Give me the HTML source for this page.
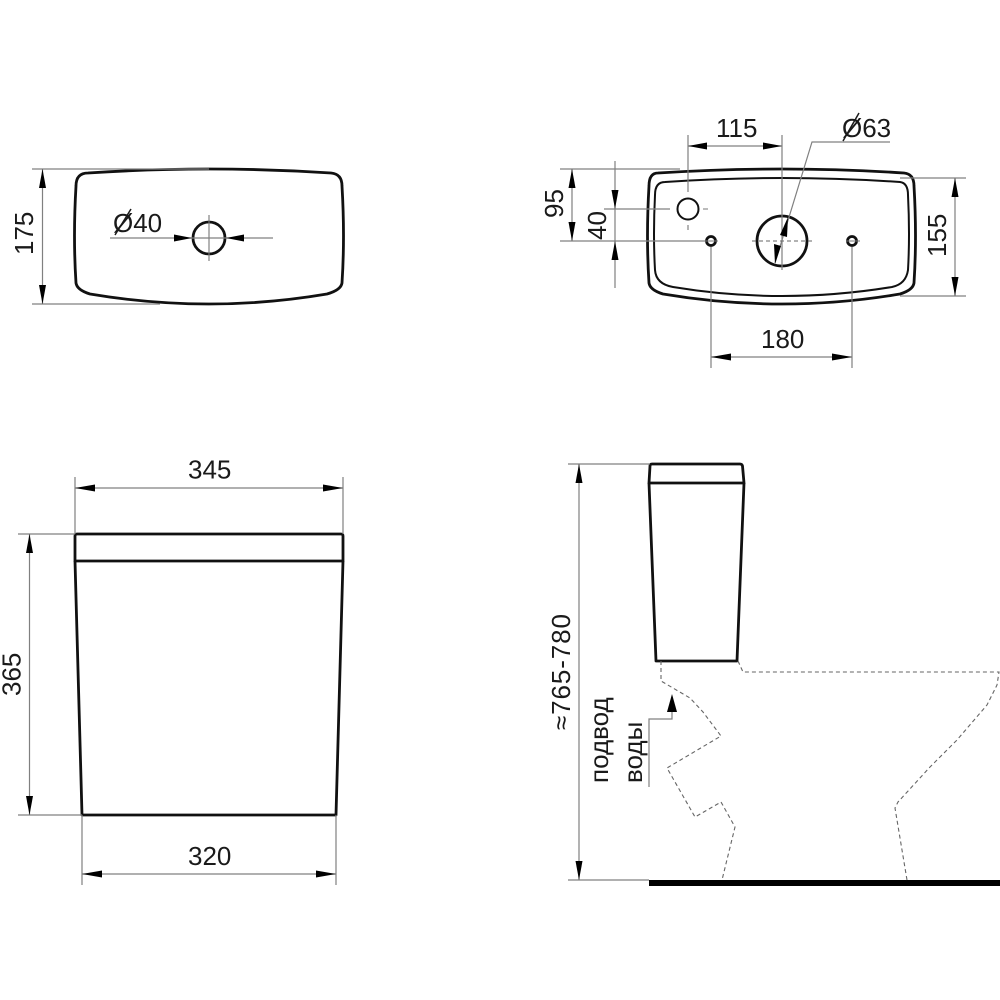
<!DOCTYPE html>
<html>
<head>
<meta charset="utf-8">
<style>
html,body{margin:0;padding:0;background:#fff;width:1000px;height:1000px;overflow:hidden}
svg{display:block}
text{font-family:"Liberation Sans",sans-serif;font-size:26px;fill:#1a1a1a}
.o{fill:none;stroke:#111;stroke-width:2.8;stroke-linejoin:round}
.t{fill:none;stroke:#111;stroke-width:2;stroke-linejoin:round}
.d{fill:none;stroke:#808080;stroke-width:1.2}
.c{fill:none;stroke:#777;stroke-width:1.1}
.h{fill:none;stroke:#666;stroke-width:1.1;stroke-dasharray:4 3}
.a{fill:#000;stroke:none}
</style>
</head>
<body>
<svg width="1000" height="1000" viewBox="0 0 1000 1000" xmlns="http://www.w3.org/2000/svg">

<!-- Top-left view -->
<path class="o" d="M88 173 Q209 165 331 173 Q342 174 342 186 Q345 237 342 283 Q341 290 327 294 Q209 314 90 294 Q77 290 76 283 Q73 237 76 186 Q76 173 88 173 Z"/>
<circle class="o" cx="209" cy="238" r="16"/>
<path class="c" d="M209 215V261"/>
<path class="d" d="M32 169H209M32 304H160M42.500 169V304"/>
<polygon class="a" points="42.500,169 39,188 46,188"/>
<polygon class="a" points="42.500,304 39,285 46,285"/>
<path class="d" d="M110 238H273"/>
<polygon class="a" points="192,238 174,234.500 174,241.500"/>
<polygon class="a" points="226,238 244,234.500 244,241.500"/>
<text transform="translate(33,255) rotate(-90)">175</text>
<text x="113" y="232">Ø40</text>
<path d="M115 235L131 209" stroke="#1a1a1a" stroke-width="1.5" fill="none"/>

<!-- Top-right view -->
<path class="o" d="M658 173 Q782 165 904 173 Q914 174 914 186 Q917 237 914 283 Q913 290 900 294 Q782 314 663 294 Q650 290 649 283 Q646 237 649 186 Q649 173 658 173 Z"/>
<path class="t" d="M665 182 Q782 174 900 182 Q908 183 908 195 Q910 235 908 270 Q906 284 892 287 Q782 305 673 287 Q656 284 655 270 Q653 235 655 195 Q655 182 665 182 Z"/>
<circle class="o" cx="782" cy="241" r="25"/>
<circle class="t" cx="688" cy="209" r="10.500"/>
<circle class="o" cx="711" cy="241" r="4.500"/>
<circle class="o" cx="852" cy="241" r="4.500"/>

<path class="d" d="M688 135V192M782 135V270M688 146H782"/>
<polygon class="a" points="688,146 707,142.500 707,149.500"/>
<polygon class="a" points="782,146 763,142.500 763,149.500"/>
<text x="716" y="137">115</text>

<path class="d" d="M890 142H812L775 263"/>
<polygon class="a" points="788,217 780,235 787,237"/>
<polygon class="a" points="775,264 781,246 774,244"/>
<text x="842" y="137">Ø63</text>
<path d="M843 141L859 113" stroke="#1a1a1a" stroke-width="1.5" fill="none"/>

<path class="d" d="M560 169H680M560 241H705M572 169V241"/>
<polygon class="a" points="572,169 568.500,188 575.500,188"/>
<polygon class="a" points="572,241 568.500,222 575.500,222"/>
<text transform="translate(563,218) rotate(-90)">95</text>

<path class="d" d="M615 161V288M604 209H670"/>
<polygon class="a" points="615,209 611.500,190 618.500,190"/>
<polygon class="a" points="615,241 611.500,260 618.500,260"/>
<text transform="translate(606,240) rotate(-90)">40</text>
<path class="c" d="M703 209H708M688 225V230"/>

<path class="h" d="M752 241H813"/>
<path class="c" d="M705 241H718M846 241H860"/>

<path class="d" d="M900 178H966M900 296H966M955 178V296"/>
<polygon class="a" points="955,178 951.500,197 958.500,197"/>
<polygon class="a" points="955,296 951.500,277 958.500,277"/>
<text transform="translate(946,257) rotate(-90)">155</text>

<path class="d" d="M711 247V368M852 247V368M711 357H852"/>
<polygon class="a" points="711,357 731,353.500 731,360.500"/>
<polygon class="a" points="852,357 832,353.500 832,360.500"/>
<text x="761" y="348">180</text>

<!-- Bottom-left view -->
<path class="o" d="M77 534H341Q343 534 343 536V561H75V536Q75 534 77 534Z"/>
<path class="o" d="M75 561L82 815H336L343 561"/>
<path class="d" d="M75 477V534M343 477V534M75 488H343"/>
<polygon class="a" points="75,488 95,484.500 95,491.500"/>
<polygon class="a" points="343,488 323,484.500 323,491.500"/>
<text x="188" y="478.500">345</text>

<path class="d" d="M18 534H75M18 815H82M29.500 534V815"/>
<polygon class="a" points="29.500,534 26,553 33,553"/>
<polygon class="a" points="29.500,815 26,796 33,796"/>
<text transform="translate(20.500,696) rotate(-90)">365</text>

<path class="d" d="M82 815V885M336 815V885M82 874H336"/>
<polygon class="a" points="82,874 102,870.500 102,877.500"/>
<polygon class="a" points="336,874 316,870.500 316,877.500"/>
<text x="188" y="865">320</text>

<!-- Bottom-right view -->
<path class="o" d="M652 464H740Q742 464 742.500 466L744 483H649L650 466Q650 464 652 464Z"/>
<path class="o" d="M649 483L656 661H737L744 483"/>
<path class="d" d="M568 464H650M568 880H649M579 464V880"/>
<polygon class="a" points="579,464 575.500,483 582.500,483"/>
<polygon class="a" points="579,880 575.500,861 582.500,861"/>
<text transform="translate(570,730) rotate(-90)" style="letter-spacing:0.900px">≈765-780</text>
<rect x="649" y="880" width="351" height="6" fill="#000"/>

<path class="h" d="M738 661L743 672L999 672L997 685L987 705L957 740L930 767L898 802L895 808L907 880"/>
<path class="h" d="M661 661V681L690 698L703 712L721 736L667 768L695 817L721 802L735 827L722 880"/>

<path class="d" d="M649 787V719H672V712"/>
<polygon class="a" points="672,694 667,712 677,712"/>
<text transform="translate(608,783) rotate(-90)" style="font-size:26px">подвод</text>
<text transform="translate(642,783) rotate(-90)" style="font-size:26px">воды</text>
</svg>
</body>
</html>
